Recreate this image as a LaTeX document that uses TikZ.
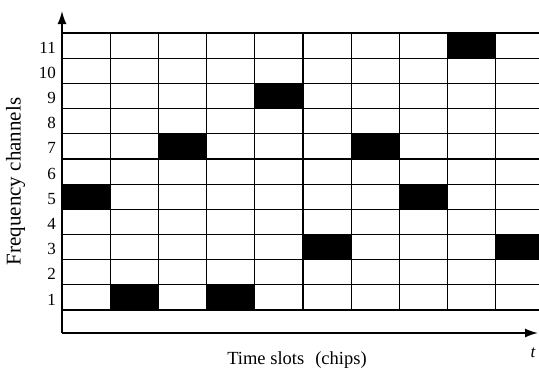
\documentclass[tikz,border=0pt]{standalone}
\usepackage{fontspec}
\setmainfont{Liberation Serif}
\usetikzlibrary{arrows.meta}
\begin{document}
\begin{tikzpicture}[x=1pt,y=-1pt,
  gridline/.style={line width=1.2pt},
  axisline/.style={line width=1.6pt,-{Latex[length=13pt,width=9pt]}},
  chlabel/.style={anchor=east,font=\fontsize{17}{17}\selectfont,inner sep=0pt},
  axislabel/.style={inner sep=0pt}]
\useasboundingbox (0,0) rectangle (539,383);
\def\cw{48.2}\def\rh{25.18}
% occupied chips: column index / channel
\foreach \c/\ch in {0/5,1/1,2/7,3/1,4/9,5/3,6/7,7/5,8/11,9/3}{
  \pgfmathsetmacro{\xl}{62+\c*\cw}
  \pgfmathsetmacro{\xr}{min(62+(\c+1)*\cw,539)}
  \pgfmathsetmacro{\yt}{310-\ch*\rh}
  \fill[black] (\xl,\yt) rectangle (\xr,\yt+\rh);
}
% grid
\foreach \i in {0,...,11}{
  \draw[gridline] (62,310-\i*\rh) -- (539,310-\i*\rh);
}
\foreach \c in {1,...,9}{
  \draw[gridline] (62+\c*\cw,33) -- (62+\c*\cw,310);
}
% channel numbers
\foreach \i in {1,...,11}{
  \node[chlabel] (ch\i) at (56,310-\i*\rh+\rh/2+2) {\i};
}
% axes
\coordinate (O) at (62,333);
\coordinate (ytip) at (62,11);
\coordinate (xtip) at (538,333);
\draw[axisline] (O) -- (ytip);
\draw[axisline] (O) -- (xtip);
\node[axislabel,font=\fontsize{17}{17}\selectfont\itshape] (tlab) at (533,353) {t};
\node[axislabel,rotate=90,font=\fontsize{21}{21}\selectfont] (ylab) at (15.5,181.5) {Frequency channels};
\node[axislabel,font=\fontsize{18.5}{18.5}\selectfont] (xlab) at (297,360) {Time slots\hspace{0.6em}(chips)};
\end{tikzpicture}
\end{document}
